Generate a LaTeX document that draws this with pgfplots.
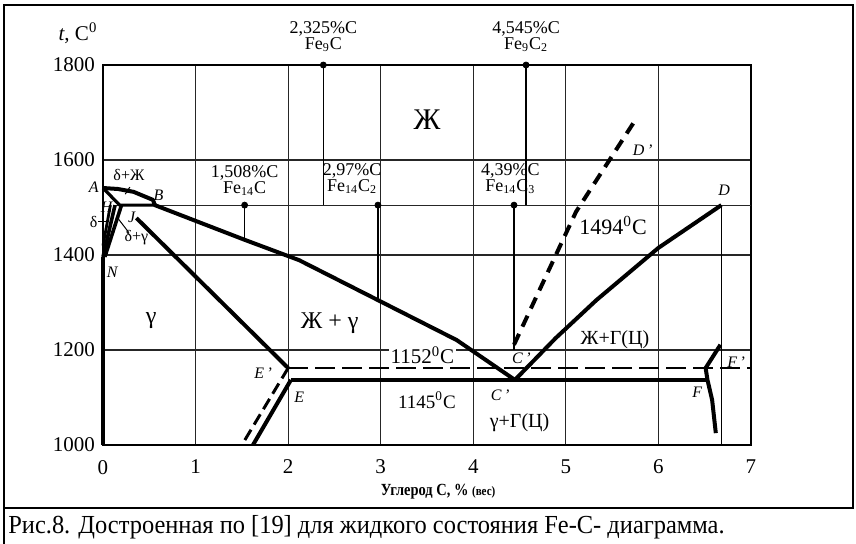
\documentclass[border=0pt]{standalone}
\usepackage{pgfplots}
\pgfplotsset{compat=1.18}
\usepackage{fontspec}
\setmainfont{Liberation Serif}
\usepackage{graphicx}
\newcommand{\fs}[1]{\fontsize{#1}{#1}\selectfont}
\begin{document}
\begin{tikzpicture}
\useasboundingbox (-51.5pt,-49.5pt) rectangle (376.5pt,222.5pt);
\draw[line width=0.8pt] (-49.5pt,-31.5pt) rectangle (375pt,220pt);
\draw[line width=0.8pt] (-49.5pt,-31.5pt) -- (-49.5pt,-49.5pt);
\node[anchor=west, inner sep=0pt] at (-47.5pt,-41pt) {\scalebox{0.94}[1]{\fs{13}Рис.8. Достроенная по [19] для жидкого состояния Fe-C- диаграмма.}};
\begin{axis}[at={(0pt,0pt)}, anchor=south west, scale only axis, width=324pt, height=190pt,
 xmin=0, xmax=7, ymin=1000, ymax=1800, clip=false,
 xtick={0,...,7}, ytick={1000,1200,1400,1600,1800},
 grid=major, major grid style={line width=0.6pt, black!85},
 tick style={draw=none},
 axis line style={line width=0.6pt},
 /pgf/number format/1000 sep={}, /pgf/number format/assume math mode=true,
 ticklabel style={font=\fs{10.5}},
 xticklabel style={yshift=-4pt},
 yticklabel style={xshift=-0.5pt},
]
% extra grid line ~1500
\addplot[line width=0.6pt, black!85] coordinates {(0.12,1505) (7,1505)};
% bottom thicker
\addplot[line width=1.3pt] coordinates {(0,1000) (7,1000)};
% composition verticals
\addplot[line width=0.6pt] coordinates {(2.38,1800) (2.38,1505)};
\addplot[line width=0.6pt] coordinates {(4.57,1800) (4.57,1505)};
\addplot[line width=0.6pt] coordinates {(1.53,1505) (1.53,1432)};
\addplot[line width=0.6pt] coordinates {(2.97,1505) (2.97,1305)};
\addplot[line width=0.6pt] coordinates {(4.44,1505) (4.44,1200)};
\addplot[line width=0.6pt] coordinates {(6.68,1505) (6.68,1000)};
\addplot[only marks, mark=*, mark size=1.5pt] coordinates {(2.38,1800) (4.57,1800) (1.53,1505) (2.97,1505) (4.44,1505)};
% liquidus A-B-C
\addplot[line width=2pt, line join=round] coordinates {(0,1541) (0.16,1539) (0.33,1533) (0.54,1516) (0.56,1505) (1.53,1432) (2.12,1389) (2.97,1305) (3.82,1221) (4.45,1137)};
% C-D
\addplot[line width=2pt, line join=round] coordinates {(4.45,1137) (4.89,1225) (5.33,1305) (6.0,1415) (6.68,1505)};
% A-H, H-B
\addplot[line width=1.6pt] coordinates {(0,1541) (0.18,1505) (0.58,1505)};
% wedge N
\addplot[line width=1.8pt] coordinates {(0.13,1505) (0,1396)};
\addplot[line width=1.8pt] coordinates {(0.2,1505) (0.02,1396)};
\addplot[line width=1.4pt] coordinates {(0.08,1505) (0,1420)};
% x=0 solidus
\addplot[line width=2pt] coordinates {(0,1396) (0,1000)};
% J - E'
\addplot[line width=2pt] coordinates {(0.36,1478) (2.0,1162)};
% E' dashed down
\addplot[line width=1.5pt, dash pattern=on 6pt off 3pt] coordinates {(2.0,1162) (1.5,1000)};
% E solid down
\addplot[line width=2pt] coordinates {(2.03,1137) (1.62,1000)};
% eutectic lines
\addplot[line width=1.2pt, dash pattern=on 10pt off 3.5pt] coordinates {(2.0,1162) (7,1162)};
\addplot[line width=2pt] coordinates {(2.03,1137) (6.53,1137)};
% D' dashed
\addplot[line width=2pt, dash pattern=on 6pt off 4pt] coordinates {(4.44,1211) (4.65,1299) (5.11,1491) (5.77,1690)};
% F curve
\addplot[line width=2pt, line join=round] coordinates {(6.67,1211) (6.51,1162) (6.53,1137) (6.58,1095) (6.62,1025)};
% leaders
\addplot[line width=0.5pt] coordinates {(0.29,1543) (0.24,1528)};
\addplot[line width=0.5pt] coordinates {(0.28,1447) (0.17,1475)};
\addplot[line width=0.5pt] coordinates {(-0.05,1470) (0.05,1470)};
% labels
\node[font=\fs{10.5}] at (-0.27,1867) {\textit{t}, C\textsuperscript{0}};
\node[font=\fs{9}, align=center, inner sep=0pt] at (2.38,1860) {2,325\%C\\[-1pt]Fe\textsubscript{9}C};
\node[font=\fs{9}, align=center, inner sep=0pt] at (4.57,1860) {4,545\%C\\[-1pt]Fe\textsubscript{9}C\textsubscript{2}};
\node[font=\fs{15}] at (3.5,1684) {Ж};
\node[font=\fs{9}, align=center, inner sep=0pt] at (1.53,1557) {1,508\%C\\[-1pt]Fe\textsubscript{14}C};
\node[font=\fs{9}, align=center, inner sep=0pt] at (2.69,1561) {2,97\%C\\[-1pt]Fe\textsubscript{14}C\textsubscript{2}};
\node[font=\fs{9}, align=center, inner sep=0pt] at (4.4,1561) {4,39\%C\\[-1pt]Fe\textsubscript{14}C\textsubscript{3}};
\node[font=\fs{8}\itshape] at (5.83,1621) {D\,'};
\node[font=\fs{8}\itshape] at (6.71,1537) {D};
\node[font=\fs{11}] at (5.51,1463) {1494\textsuperscript{0}C};
\node[font=\fs{8}\itshape] at (-0.1,1543) {A};
\node[font=\fs{8}\itshape] at (0.6,1526) {B};
\node[font=\fs{8}\itshape, inner sep=0pt] at (0.04,1501) {H};
\node[font=\fs{8}, inner sep=0pt] at (-0.1,1469) {δ};
\node[font=\fs{8}\itshape, inner sep=0pt] at (0.31,1480) {J};
\node[font=\fs{8}, inner sep=0pt] at (0.36,1436) {δ+γ};
\node[font=\fs{8}, inner sep=0pt] at (0.28,1568) {δ+Ж};
\node[font=\fs{8}\itshape, inner sep=0pt] at (0.1,1364) {N};
\node[font=\fs{12}] at (0.52,1263) {γ};
\node[font=\fs{12}] at (2.45,1257) {Ж + γ};
\node[font=\fs{10.5}, fill=white, inner sep=1pt] at (3.45,1189) {1152\textsuperscript{0}C};
\node[font=\fs{8}\itshape] at (1.73,1152) {E\,'};
\node[font=\fs{8}\itshape] at (2.12,1101) {E};
\node[font=\fs{9.5}] at (3.5,1095) {1145\textsuperscript{0}C};
\node[font=\fs{8}\itshape] at (4.52,1183) {C\,'};
\node[font=\fs{8}\itshape] at (4.29,1105) {C\,'};
\node[font=\fs{10}] at (4.5,1046) {γ+Г(Ц)};
\node[font=\fs{10}] at (5.53,1221) {Ж+Г(Ц)};
\node[font=\fs{8}\itshape] at (6.84,1175) {F\,'};
\node[font=\fs{8}\itshape] at (6.42,1112) {F};
\node[font=\fs{8.5}\bfseries] at (3.62,1000) [yshift=-23.5pt] {\scalebox{0.85}[1]{Углерод С, \% {\fs{6.5}(вес)}}};
\end{axis}
\end{tikzpicture}
\end{document}
